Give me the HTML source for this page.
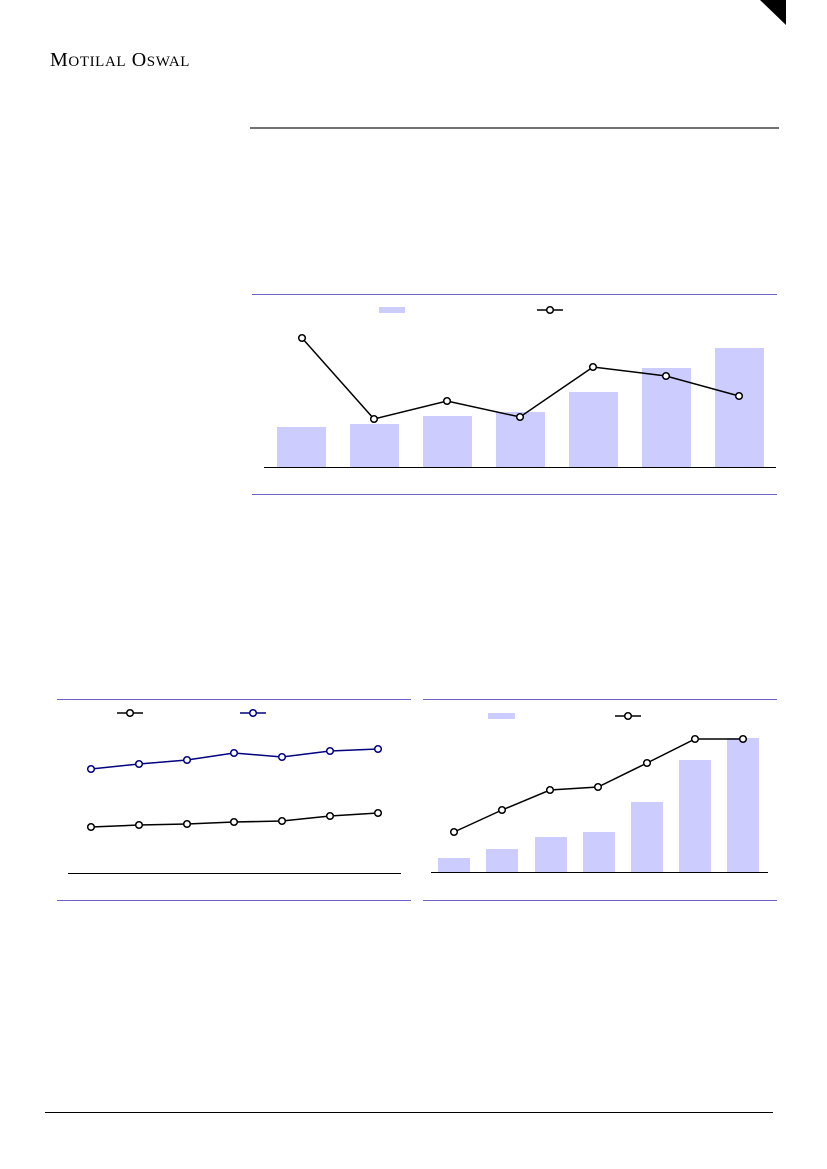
<!DOCTYPE html>
<html><head><meta charset="utf-8"><style>
html,body{margin:0;padding:0;background:#fff;}
svg{display:block}
</style></head><body>
<svg width="827" height="1169" viewBox="0 0 827 1169" xmlns="http://www.w3.org/2000/svg">
<rect width="827" height="1169" fill="#fff"/>
<polygon points="760,0 786,0 786,25" fill="#000"/>
<text x="50" y="66" font-family="Liberation Serif, serif" font-size="20" letter-spacing="0.6" fill="#000">M<tspan font-size="15">OTILAL</tspan> O<tspan font-size="15">SWAL</tspan></text>
<line x1="250" y1="128" x2="779" y2="128" stroke="#444" stroke-width="1.5"/>

<!-- Chart 1 -->
<line x1="252" y1="294.5" x2="777" y2="294.5" stroke="#6a62c8" stroke-width="1"/>
<line x1="252" y1="494.5" x2="777" y2="494.5" stroke="#6a62c8" stroke-width="1"/>
<rect x="379" y="307" width="26" height="6" fill="#ccccff"/>
<line x1="537" y1="310" x2="563" y2="310" stroke="#000" stroke-width="1.5"/>
<circle cx="550" cy="310" r="3.3" fill="#fff" stroke="#000" stroke-width="1.5"/>
<g fill="#ccccff">
<rect x="277" y="427" width="49" height="40"/>
<rect x="350" y="424" width="49" height="43"/>
<rect x="423" y="416" width="49" height="51"/>
<rect x="496" y="412" width="49" height="55"/>
<rect x="569" y="392" width="49" height="75"/>
<rect x="642" y="368" width="49" height="99"/>
<rect x="715" y="348" width="49" height="119"/>
</g>
<line x1="264" y1="467.5" x2="776" y2="467.5" stroke="#000" stroke-width="1"/>
<polyline points="302,338 374,419 447,401 520,417 593,367 666,376 739,396" fill="none" stroke="#000" stroke-width="1.5"/>
<g fill="#fff" stroke="#000" stroke-width="1.5">
<circle cx="302" cy="338" r="3.3"/><circle cx="374" cy="419" r="3.3"/><circle cx="447" cy="401" r="3.3"/><circle cx="520" cy="417" r="3.3"/><circle cx="593" cy="367" r="3.3"/><circle cx="666" cy="376" r="3.3"/><circle cx="739" cy="396" r="3.3"/>
</g>

<!-- Chart 2 left -->
<line x1="57" y1="699.5" x2="411" y2="699.5" stroke="#6a62c8" stroke-width="1"/>
<line x1="57" y1="900.5" x2="411" y2="900.5" stroke="#6a62c8" stroke-width="1"/>
<line x1="117" y1="713" x2="143" y2="713" stroke="#000" stroke-width="1.5"/>
<circle cx="130" cy="713" r="3.3" fill="#fff" stroke="#000" stroke-width="1.5"/>
<line x1="240" y1="713" x2="266" y2="713" stroke="#000080" stroke-width="1.5"/>
<circle cx="253" cy="713" r="3.3" fill="#fff" stroke="#000080" stroke-width="1.5"/>
<line x1="68" y1="873.5" x2="401" y2="873.5" stroke="#000" stroke-width="1"/>
<polyline points="91,769 139,764 187,760 234,753 282,757 330,751 378,749" fill="none" stroke="#000080" stroke-width="1.5"/>
<g fill="#fff" stroke="#000080" stroke-width="1.5">
<circle cx="91" cy="769" r="3.3"/><circle cx="139" cy="764" r="3.3"/><circle cx="187" cy="760" r="3.3"/><circle cx="234" cy="753" r="3.3"/><circle cx="282" cy="757" r="3.3"/><circle cx="330" cy="751" r="3.3"/><circle cx="378" cy="749" r="3.3"/>
</g>
<polyline points="91,827 139,825 187,824 234,822 282,821 330,816 378,813" fill="none" stroke="#000" stroke-width="1.5"/>
<g fill="#fff" stroke="#000" stroke-width="1.5">
<circle cx="91" cy="827" r="3.3"/><circle cx="139" cy="825" r="3.3"/><circle cx="187" cy="824" r="3.3"/><circle cx="234" cy="822" r="3.3"/><circle cx="282" cy="821" r="3.3"/><circle cx="330" cy="816" r="3.3"/><circle cx="378" cy="813" r="3.3"/>
</g>

<!-- Chart 2 right -->
<line x1="423" y1="699.5" x2="777" y2="699.5" stroke="#6a62c8" stroke-width="1"/>
<line x1="423" y1="900.5" x2="777" y2="900.5" stroke="#6a62c8" stroke-width="1"/>
<rect x="488" y="713" width="27" height="6" fill="#ccccff"/>
<line x1="615" y1="716" x2="641" y2="716" stroke="#000" stroke-width="1.5"/>
<circle cx="628" cy="716" r="3.3" fill="#fff" stroke="#000" stroke-width="1.5"/>
<g fill="#ccccff">
<rect x="438" y="858" width="32" height="14"/>
<rect x="486" y="849" width="32" height="23"/>
<rect x="535" y="837" width="32" height="35"/>
<rect x="583" y="832" width="32" height="40"/>
<rect x="631" y="802" width="32" height="70"/>
<rect x="679" y="760" width="32" height="112"/>
<rect x="727" y="738" width="32" height="134"/>
</g>
<line x1="431" y1="872.5" x2="768" y2="872.5" stroke="#000" stroke-width="1"/>
<polyline points="454,832 502,810 550,790 598,787 647,763 695,739 743,739" fill="none" stroke="#000" stroke-width="1.5"/>
<g fill="#fff" stroke="#000" stroke-width="1.5">
<circle cx="454" cy="832" r="3.3"/><circle cx="502" cy="810" r="3.3"/><circle cx="550" cy="790" r="3.3"/><circle cx="598" cy="787" r="3.3"/><circle cx="647" cy="763" r="3.3"/><circle cx="695" cy="739" r="3.3"/><circle cx="743" cy="739" r="3.3"/>
</g>

<line x1="45" y1="1112.5" x2="773" y2="1112.5" stroke="#000" stroke-width="1"/>
</svg>
</body></html>
